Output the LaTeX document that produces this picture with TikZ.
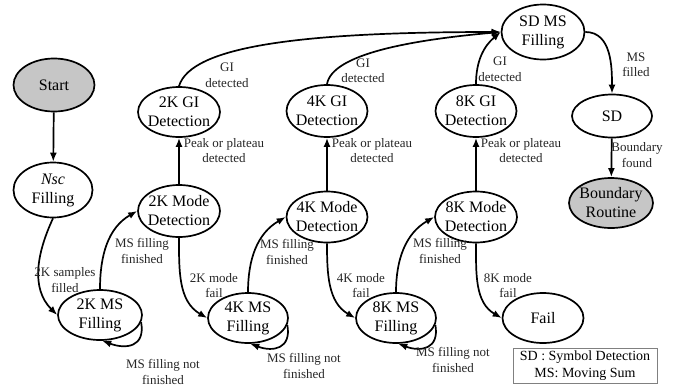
\documentclass[tikz,border=0pt]{standalone}
\usepackage{fontspec}
\setmainfont{Liberation Serif}
\usetikzlibrary{shapes.geometric,arrows.meta}
\begin{document}
\begin{tikzpicture}[x=1pt,y=1pt,
  st/.style={draw, line width=1.7pt, ellipse, inner sep=0pt, minimum width=81pt, minimum height=50pt},
  gst/.style={st, fill=gray!45},
  ntext/.style={font=\fontsize{16}{19}\selectfont, align=center, inner sep=0pt},
  elbl/.style={font=\fontsize{13}{15.5}\selectfont, align=center, inner sep=0pt, text=black!85},
  edge/.style={line width=1.7pt, -{Latex[length=9pt,width=7pt]}}
]
\useasboundingbox (0,0) rectangle (684,-388);

% states
\node[gst, minimum height=53pt] (start) at (54,-85) {};
\node[ntext] (startt) at (start) {Start};
\node[st, minimum width=79pt, minimum height=55pt] (nsc) at (53,-190) {};
\node[ntext] (nsct) at (nsc) {\textit{Nsc}\\Filling};

\node[st, minimum width=84pt] (ms2) at (100,-315) {};
\node[ntext] (ms2t) at (ms2) {2K MS\\Filling};
\node[st, minimum width=82pt, minimum height=52pt] (mode2) at (179,-211) {};
\node[ntext] (mode2t) at (mode2) {2K Mode\\Detection};
\node[st, minimum width=82pt] (gi2) at (179,-112) {};
\node[ntext] (gi2t) at (gi2) {2K GI\\Detection};

\node[st, minimum width=80pt] (ms4) at (248,-318) {};
\node[ntext] (ms4t) at (ms4) {4K MS\\Filling};
\node[st, minimum height=51pt] (mode4) at (327,-217) {};
\node[ntext] (mode4t) at (mode4) {4K Mode\\Detection};
\node[st, minimum height=52pt] (gi4) at (327,-111) {};
\node[ntext] (gi4t) at (gi4) {4K GI\\Detection};

\node[st, minimum width=80pt] (ms8) at (396,-318) {};
\node[ntext] (ms8t) at (ms8) {8K MS\\Filling};
\node[st, minimum width=82pt, minimum height=51pt] (mode8) at (476,-217) {};
\node[ntext] (mode8t) at (mode8) {8K Mode\\Detection};
\node[st, minimum height=52pt] (gi8) at (476,-111) {};
\node[ntext] (gi8t) at (gi8) {8K GI\\Detection};

\node[st] (fail) at (543,-318) {};
\node[ntext] (failt) at (fail) {Fail};

\node[st, minimum width=83pt, minimum height=55pt] (sdms) at (543,-32) {};
\node[ntext] (sdmst) at (sdms) {SD MS\\Filling};
\node[st, minimum width=80pt, minimum height=43pt] (sd) at (612,-116) {};
\node[ntext] (sdt) at (sd) {SD};
\node[gst, minimum width=84pt] (bnd) at (611,-203) {};
\node[ntext] (bndt) at (bnd) {Boundary\\Routine};

% legend
\node[draw=gray, line width=0.8pt, minimum width=144pt, minimum height=35pt, inner sep=0pt,
      font=\fontsize{14}{16.5}\selectfont, align=center] (legend) at (585,-365.5)
      {SD : Symbol Detection\\MS: Moving Sum};

% edges
\draw[edge] (start) -- (nsc);
\draw[edge] (nsc.south) to[out=-115,in=135] (ms2.west);
\draw[edge] (ms2.north) to[out=90,in=-150] (mode2.west);
\draw[edge] (mode2.south) to[out=-90,in=150] (ms4.west);
\draw[edge] (ms4.north) to[out=90,in=-150] (mode4.west);
\draw[edge] (mode4.south) to[out=-90,in=150] (ms8.west);
\draw[edge] (ms8.north) to[out=90,in=-150] (mode8.west);
\draw[edge] (mode8.south) to[out=-90,in=150] (fail.west);

\draw[edge] (mode2) -- (gi2);
\draw[edge] (mode4) -- (gi4);
\draw[edge] (mode8) -- (gi8);

\draw[edge] (gi2.north) .. controls +(12,40) and +(-200,0) .. (sdms.west);
\draw[edge] (gi4.north) .. controls +(5,30) and +(-90,-8) .. (sdms.west);
\draw[edge] (gi8.north) to[out=90,in=-140] (sdms.west);
\draw[edge] (sdms.east) to[out=0,in=90] (sd.north);
\draw[edge] (sd) -- (bnd);

\draw[edge] (ms2.-10) to[out=-80,in=-20,looseness=1.5] (ms2.-85);
\draw[edge] (ms4.-10) to[out=-80,in=-20,looseness=1.5] (ms4.-85);
\draw[edge] (ms8.-10) to[out=-80,in=-20,looseness=1.5] (ms8.-85);

% edge labels
\node[elbl] (l1) at (65,-280) {2K samples\\filled};
\node[elbl] (l2) at (142,-251) {MS filling\\finished};
\node[elbl] (l3) at (287,-252) {MS filling\\finished};
\node[elbl] (l4) at (440,-251) {MS filling\\finished};
\node[elbl] (l5) at (214,-285.5) {2K mode\\fail};
\node[elbl] (l6) at (361,-285.5) {4K mode\\fail};
\node[elbl] (l7) at (508,-285.5) {8K mode\\fail};
\node[elbl] (l8) at (163,-372) {MS filling not\\finished};
\node[elbl] (l9) at (304,-366) {MS filling not\\finished};
\node[elbl] (l10) at (453,-360) {MS filling not\\finished};
\node[elbl] (l11) at (224,-150.5) {Peak or plateau\\detected};
\node[elbl] (l12) at (372,-150.5) {Peak or plateau\\detected};
\node[elbl] (l13) at (521,-150.5) {Peak or plateau\\detected};
\node[elbl] (l14) at (227,-75.5) {GI\\detected};
\node[elbl] (l15) at (363,-71) {GI\\detected};
\node[elbl] (l16) at (500,-69.5) {GI\\detected};
\node[elbl] (l17) at (636,-65) {MS\\filled};
\node[elbl] (l18) at (637,-155) {Boundary\\found};
\end{tikzpicture}
\end{document}
